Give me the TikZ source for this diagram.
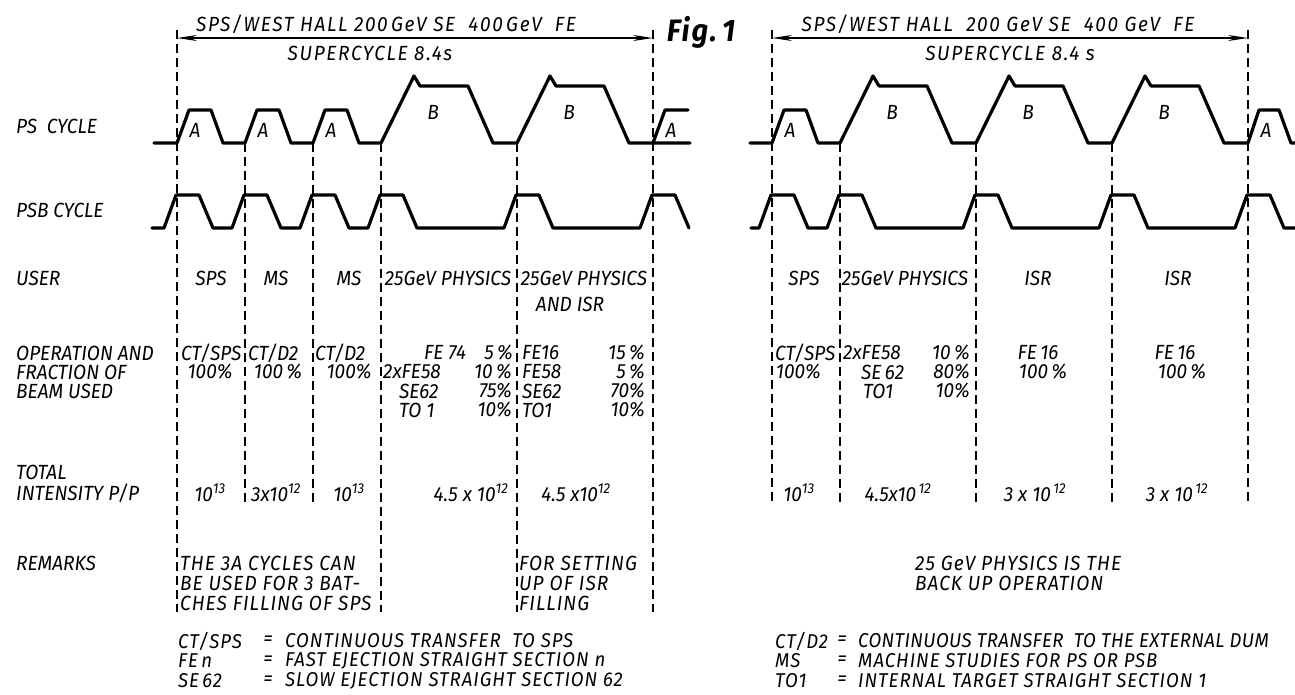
\documentclass[tikz,border=0pt]{standalone}
\usepackage{fontspec}
\setmainfont{Fira Sans}[FakeStretch=0.93]
\usetikzlibrary{arrows.meta}
\newcommand{\psbp}[1]{-- ({#1-13},228) -- ++(12,-33) -- ++(23,0) -- ++(14,33)}
\newcommand{\apulse}{-- ++(12,-33) -- ++(22,0) -- ++(12,33)}
\newcommand{\bpulse}{-- ++(33,-67) -- ++(6,10) -- ++(48,0) -- ++(25,57)}
\newcommand{\ex}[1]{\textsuperscript{#1}}
\begin{document}
\begin{tikzpicture}[x=1pt,y=-1pt,
  lbl/.style={font=\fontsize{20.5}{22}\selectfont\itshape, inner sep=0pt, text=black},
  wide/.style={font=\fontsize{20.5}{22}\selectfont\itshape\addfontfeatures{LetterSpace=5}, inner sep=0pt, text=black},
  leg/.style={font=\fontsize{20}{22}\selectfont\itshape\addfontfeatures{LetterSpace=5}, inner sep=0pt, text=black},
  ttl/.style={font=\fontsize{20.5}{22}\selectfont\itshape\addfontfeatures{LetterSpace=8}, inner sep=0pt, text=black},
  pulse/.style={line width=3.2pt, line join=round, line cap=round},
  guide/.style={line width=1.2pt, dash pattern=on 9pt off 5pt},
  dim/.style={line width=1.5pt, {Stealth[length=20pt,width=6pt]}-{Stealth[length=20pt,width=6pt]}}]
\useasboundingbox (0,0) rectangle (1295,694);
\fill[white] (0,0) rectangle (1295,694);

% ---------- dashed guide lines ----------
\foreach \x/\a/\b in {177/30/612, 245/143/503, 313/143/503, 381/143/612, 517/143/612, 653/30/612,
                     772/30/503, 840/143/503, 976/143/503, 1112/143/503, 1248/30/503}
  \draw[guide] (\x,\a) -- (\x,\b);

% ---------- supercycle arrows ----------
\coordinate (la) at (177,38); \coordinate (lb) at (653,38);
\coordinate (ra) at (772,38); \coordinate (rb) at (1248,38);
\draw[dim] (la) -- (lb);
\draw[dim] (ra) -- (rb);

% ---------- PS cycle ----------
\draw[pulse] (154,143) -- (177,143) \apulse -- (245,143) \apulse -- (313,143) \apulse
  -- (381,143) \bpulse -- (517,143) \bpulse -- (690,143);
\draw[pulse] (653,143) -- ++(12,-33) -- (688,110);
\draw[pulse] (750,143) -- (772,143) \apulse -- (840,143) \bpulse -- (976,143) \bpulse
  -- (1112,143) \bpulse -- (1248,143) -- ++(11,-33) -- ++(20,0) -- ++(12,33) -- (1295,143);

% ---------- PSB cycle ----------
\draw[pulse] (152,228) \psbp{177} \psbp{245} \psbp{313} \psbp{381} \psbp{517} \psbp{653};
\draw[pulse] (751,228) \psbp{772} \psbp{840} \psbp{976} \psbp{1112} \psbp{1248} -- (1295,228);

% ---------- titles ----------
\node[ttl] (tl) at (386,24) {SPS/WEST HALL 200\,GeV SE\ \ 400\,GeV\ \ FE};
\node[ttl] (sl) at (370,53) {SUPERCYCLE 8.4s};
\node[ttl] (tr) at (998,24) {SPS/WEST HALL\ \ 200 GeV SE\ \ 400 GeV\ \ FE};
\node[ttl] (sr) at (1010,53) {SUPERCYCLE 8.4 s};
\node[lbl, font=\fontsize{31}{34}\selectfont\itshape\bfseries\addfontfeatures{LetterSpace=6}] (fig) at (701,32) {Fig.\,1};

% ---------- pulse letters ----------
\node[lbl] (a1) at (195,130) {A};
\node[lbl] (a2) at (263,130) {A};
\node[lbl] (a3) at (331,130) {A};
\node[lbl] (b1) at (433,112) {B};
\node[lbl] (b2) at (569,112) {B};
\node[lbl] (a4) at (671,130) {A};
\node[lbl] (a5) at (790,130) {A};
\node[lbl] (b3) at (892,112) {B};
\node[lbl] (b4) at (1028,112) {B};
\node[lbl] (b5) at (1164,112) {B};
\node[lbl] (a6) at (1266,130) {A};

% ---------- row labels ----------
\node[lbl, anchor=west] (r1) at (16,126) {PS\ \ CYCLE};
\node[lbl, anchor=west] (r2) at (16,210) {PSB CYCLE};
\node[lbl, anchor=west] (r3) at (16,278) {USER};
\node[lbl, anchor=west] (r4) at (16,353) {OPERATION AND};
\node[lbl, anchor=west] (r5) at (16,372) {FRACTION OF};
\node[lbl, anchor=west] (r6) at (16,391) {BEAM USED};
\node[lbl, anchor=west] (r7) at (16,472) {TOTAL};
\node[lbl, anchor=west] (r8) at (16,493) {INTENSITY P/P};
\node[lbl, anchor=west] (r9) at (16,563) {REMARKS};

% ---------- USER row ----------
\node[lbl] (u1) at (211,278) {SPS};
\node[lbl] (u2) at (276,278) {MS};
\node[lbl] (u3) at (349,278) {MS};
\node[lbl] (u4) at (448,278) {25GeV PHYSICS};
\node[lbl] (u5) at (584,278) {25GeV PHYSICS};
\node[lbl] (u6) at (570,304) {AND ISR};
\node[lbl] (u7) at (804,278) {SPS};
\node[lbl] (u8) at (905,278) {25GeV PHYSICS};
\node[lbl] (u9) at (1038,278) {ISR};
\node[lbl] (u10) at (1178,278) {ISR};

% ---------- operation rows ----------
\node[lbl, anchor=west] (o1) at (181,353) {CT/SPS};
\node[lbl] (o2) at (210,372) {100\%};
\node[lbl, anchor=west] (o3) at (248,353) {CT/D2};
\node[lbl] (o4) at (278,372) {100\,\%};
\node[lbl, anchor=west] (o5) at (315,353) {CT/D2};
\node[lbl] (o6) at (349,372) {100\%};
\node[lbl, anchor=west] (o7) at (424,353) {FE 74};
\node[lbl, anchor=east] (o8) at (513,353) {5\,\%};
\node[lbl, anchor=west] (o9) at (383,372) {2xFE58};
\node[lbl, anchor=east] (o10) at (512,372) {10\,\%};
\node[lbl, anchor=west] (o11) at (399,391) {SE62};
\node[lbl, anchor=east] (o12) at (512,391) {75\%};
\node[lbl, anchor=west] (o13) at (399,410) {TO 1};
\node[lbl, anchor=east] (o14) at (512,410) {10\%};
\node[lbl, anchor=west] (o15) at (522,353) {FE16};
\node[lbl, anchor=east] (o16) at (645,353) {15\,\%};
\node[lbl, anchor=west] (o17) at (522,372) {FE58};
\node[lbl, anchor=east] (o18) at (645,372) {5\,\%};
\node[lbl, anchor=west] (o19) at (522,391) {SE62};
\node[lbl, anchor=east] (o20) at (645,391) {70\%};
\node[lbl, anchor=west] (o21) at (522,410) {TO1};
\node[lbl, anchor=east] (o22) at (645,410) {10\%};
\node[lbl, anchor=west] (o23) at (775,353) {CT/SPS};
\node[lbl, anchor=east] (o24) at (821,372) {100\%};
\node[lbl, anchor=west] (o25) at (843,353) {2xFE58};
\node[lbl, anchor=east] (o26) at (970,353) {10\,\%};
\node[lbl, anchor=west] (o27) at (861,372) {SE\,62};
\node[lbl, anchor=east] (o28) at (970,372) {80\%};
\node[lbl, anchor=west] (o29) at (863,391) {TO1};
\node[lbl, anchor=east] (o30) at (970,391) {10\%};
\node[lbl] (o31) at (1038,353) {FE\,16};
\node[lbl] (o32) at (1043,372) {100\,\%};
\node[lbl] (o33) at (1175,353) {FE\,16};
\node[lbl] (o34) at (1182,372) {100\,\%};

% ---------- intensity row ----------
\node[lbl] (i1) at (210,493) {10\ex{13}};
\node[lbl] (i2) at (276,493) {3x10\ex{12}};
\node[lbl] (i3) at (349,493) {10\ex{13}};
\node[lbl] (i4) at (471,493) {4.5 x 10\ex{12}};
\node[lbl] (i5) at (576,493) {4.5 x10\ex{12}};
\node[lbl] (i6) at (799,493) {10\ex{13}};
\node[lbl] (i7) at (898,493) {4.5x10\ex{\,12}};
\node[lbl] (i8) at (1035,493) {3 x 10\ex{\,12}};
\node[lbl] (i9) at (1177,493) {3 x 10\ex{\,12}};

% ---------- remarks ----------
\node[wide, anchor=west] (m1) at (180,563) {THE 3A CYCLES CAN};
\node[wide, anchor=west] (m2) at (180,583) {BE USED FOR 3 BAT-};
\node[wide, anchor=west] (m3) at (180,603) {CHES FILLING OF SPS};
\node[wide, anchor=west] (m4) at (519,563) {FOR SETTING};
\node[wide, anchor=west] (m5) at (519,583) {UP OF ISR};
\node[wide, anchor=west] (m6) at (519,603) {FILLING};
\node[wide, anchor=west] (m7) at (915,563) {25 GeV PHYSICS IS THE};
\node[wide, anchor=west] (m8) at (915,583) {BACK UP OPERATION};

% ---------- legend ----------
\node[leg, anchor=west] (g1) at (178,641) {CT/SPS};
\node[lbl] (g2) at (268,641) {=};
\node[leg, anchor=west] (g3) at (285,641) {CONTINUOUS TRANSFER\ \ TO SPS};
\node[leg, anchor=west] (g4) at (178,661) {FE\,n};
\node[lbl] (g5) at (268,661) {=};
\node[leg, anchor=west] (g6) at (285,661) {FAST EJECTION STRAIGHT SECTION n};
\node[leg, anchor=west] (g7) at (178,681) {SE\,62};
\node[lbl] (g8) at (268,681) {=};
\node[leg, anchor=west] (g9) at (285,681) {SLOW EJECTION STRAIGHT SECTION 62};
\node[leg, anchor=west] (g10) at (775,641) {CT/D2};
\node[lbl] (g11) at (842,641) {=};
\node[leg, anchor=west, font=\fontsize{20}{22}\selectfont\itshape\addfontfeatures{LetterSpace=2}] (g12) at (858,641) {CONTINUOUS TRANSFER\ \ TO THE EXTERNAL DUM};
\node[leg, anchor=west] (g13) at (775,661) {MS};
\node[lbl] (g14) at (842,661) {=};
\node[leg, anchor=west] (g15) at (858,661) {MACHINE STUDIES FOR PS OR PSB};
\node[leg, anchor=west] (g16) at (775,681) {TO1};
\node[lbl] (g17) at (842,681) {=};
\node[leg, anchor=west] (g18) at (858,681) {INTERNAL TARGET STRAIGHT SECTION 1};
\end{tikzpicture}
\end{document}
